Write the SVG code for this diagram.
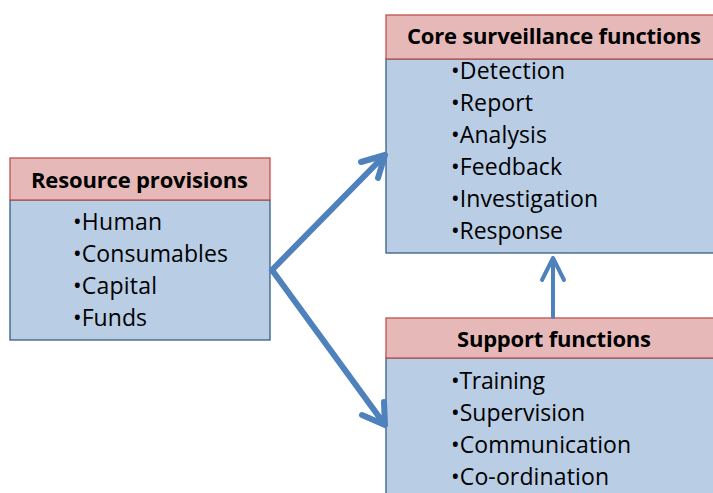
<svg xmlns="http://www.w3.org/2000/svg" width="713" height="493" viewBox="0 0 713 493">
<style>
.hd{fill:#E6B9B8;stroke:#C0504D;stroke-width:1.3}
.bd{fill:#B9CDE5;stroke:#385D8A;stroke-width:1.3}
.tt{font-family:"Open Sans","Liberation Sans",sans-serif;font-weight:bold;font-size:22px;fill:#000}
.it{font-family:"Open Sans","Liberation Sans",sans-serif;font-size:23px;fill:#000}
.ar{fill:none;stroke:#4F81BD;stroke-linecap:round;stroke-linejoin:round}
</style>
<rect width="713" height="493" fill="#fff"/>
<g id="resource">
<rect class="bd" x="10" y="200" width="260" height="140"/>
<rect class="hd" x="10" y="158" width="260" height="42"/>
<text class="tt" x="31" y="188" textLength="217">Resource provisions</text>
<text class="it" x="73" y="230" textLength="89">•Human</text>
<text class="it" x="73" y="262" textLength="155">•Consumables</text>
<text class="it" x="73" y="294" textLength="84">•Capital</text>
<text class="it" x="73" y="326" textLength="74">•Funds</text>
</g>
<g id="core">
<rect class="bd" x="386" y="59" width="336" height="194"/>
<rect class="hd" x="386" y="15" width="336" height="44"/>
<text class="tt" x="407" y="44" textLength="294">Core surveillance functions</text>
<text class="it" x="451" y="79" textLength="114">•Detection</text>
<text class="it" x="451" y="111" textLength="82">•Report</text>
<text class="it" x="451" y="143" textLength="96">•Analysis</text>
<text class="it" x="451" y="175" textLength="111">•Feedback</text>
<text class="it" x="451" y="207" textLength="147">•Investigation</text>
<text class="it" x="451" y="239" textLength="112">•Response</text>
</g>
<g id="support">
<rect class="bd" x="386" y="358" width="336" height="150"/>
<rect class="hd" x="386" y="318" width="336" height="40"/>
<text class="tt" x="457" y="347" textLength="194">Support functions</text>
<text class="it" x="451" y="389" textLength="94">•Training</text>
<text class="it" x="451" y="421" textLength="134">•Supervision</text>
<text class="it" x="451" y="453" textLength="180">•Communication</text>
<text class="it" x="451" y="485" textLength="158">•Co-ordination</text>
</g>
<g id="connectors">
<path class="ar" stroke-width="6" d="M272,270 L385,155 M361,162 L385,155 L378,178"/>
<path class="ar" stroke-width="6" d="M272,270 L385,425 M362,415 L385,425 L384,402"/>
<path class="ar" stroke-width="4" d="M553,317 L553,258 M542,280 L553,258 L564,280"/>
</g>
</svg>
